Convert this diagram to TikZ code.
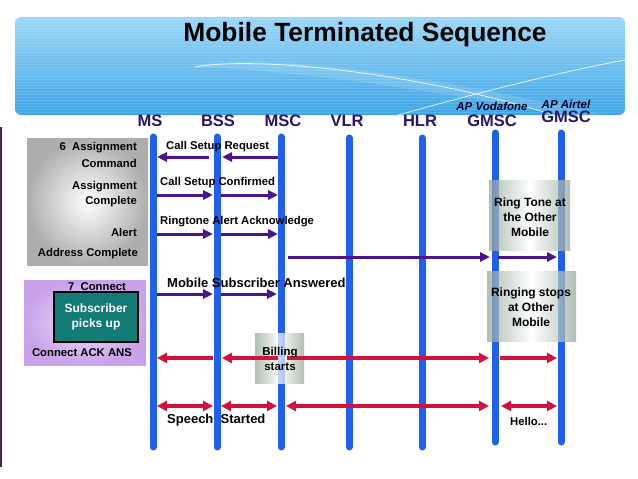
\documentclass[tikz,border=0pt]{standalone}
\usepackage{fontspec}
\setmainfont{Liberation Sans}
\usetikzlibrary{arrows.meta,calc}
\definecolor{lifeblue}{HTML}{1F60EE}
\definecolor{parrow}{HTML}{4B148C}
\definecolor{rarrow}{HTML}{D2123E}
\definecolor{lname}{HTML}{2A146E}
\definecolor{hdtop}{HTML}{9BD7F8}
\definecolor{hdbot}{HTML}{3EA5E6}
\definecolor{boxg}{HTML}{93A696}
\definecolor{teal}{HTML}{137B76}
\definecolor{lavin}{HTML}{EEDFFA}
\definecolor{lavout}{HTML}{C9A2EA}
\definecolor{edgeline}{HTML}{4B2848}
\begin{document}
\begin{tikzpicture}[x=1pt,y=-1pt,
  life/.style={line width=7pt,color=lifeblue,line cap=round},
  lname/.style={font=\bfseries\fontsize{16.5}{18}\selectfont,text=lname,inner sep=0pt},
  apname/.style={font=\bfseries\itshape\fontsize{11.5}{13}\selectfont,text=black!85!blue,inner sep=0pt},
  parr/.style={line width=3pt,color=parrow,-{Triangle[length=10pt,width=9pt]},shorten <=4pt,shorten >=4pt},
  rarr/.style={line width=3.5pt,color=rarrow,-{Triangle[length=10pt,width=10pt]},shorten <=4pt,shorten >=4pt},
  rdarr/.style={line width=3.5pt,color=rarrow,{Triangle[length=10pt,width=10pt]}-{Triangle[length=10pt,width=10pt]},shorten <=4pt,shorten >=4pt},
  msg/.style={font=\bfseries\fontsize{11.3}{13}\selectfont,inner sep=0pt,anchor=west},
  bigmsg/.style={font=\bfseries\fontsize{13}{15}\selectfont,inner sep=0pt,anchor=west},
  sidetxt/.style={font=\bfseries\fontsize{11.3}{13}\selectfont,inner sep=0pt,anchor=east},
  notetxt/.style={font=\bfseries\fontsize{12}{15}\selectfont,align=center,inner sep=0pt},
  gbox/.style={left color=boxg,right color=boxg,middle color=white,opacity=.72}
]
\useasboundingbox (0,0) rectangle (638,479);
\fill[white] (0,0) rectangle (638,479);

% header
\shade[top color=hdtop,bottom color=hdbot,rounded corners=6pt] (15,17) rectangle (625,115);
\begin{scope}
  \clip[rounded corners=6pt] (15,17) rectangle (625,115);
  \foreach \yy in {19,22,...,115} {\draw[white,opacity=.13,line width=.8pt] (15,\yy) -- (625,\yy);}
  \fill[white,opacity=.14] (190,67) .. controls (260,52) and (420,72) .. (625,120) -- (625,125) .. controls (430,90) and (300,70) .. (190,67) -- cycle;
  \draw[white,opacity=.8,line width=.8pt] (195,67) .. controls (260,55) and (430,75) .. (560,117);
  \draw[white,opacity=.8,line width=.8pt] (395,116) .. controls (480,92) and (560,72) .. (625,60);
\end{scope}
\node[font=\bfseries\fontsize{26.4}{30}\selectfont,inner sep=0pt] (title) at (365,35) {Mobile Terminated Sequence};

% left edge
\coordinate (eT) at (1,127); \coordinate (eB) at (1,467);
\draw[edgeline,line width=2pt] (eT) -- (eB);

% lifeline names
\node[lname] (nms) at (150,121) {MS};
\node[lname] (nbss) at (218,121) {BSS};
\node[lname] (nmsc) at (283,121) {MSC};
\node[lname] (nvlr) at (347,121) {VLR};
\node[lname] (nhlr) at (420,121) {HLR};
\node[lname] (ng1) at (492,121) {GMSC};
\node[lname] (ng2) at (566,117) {GMSC};
\node[apname] (ap1) at (492,106) {AP Vodafone};
\node[apname] (ap2) at (566,104) {AP Airtel};

% lifelines
\coordinate (ms) at (153,137); \coordinate (msB) at (153,447);
\coordinate (bss) at (217,137); \coordinate (bssB) at (217,447);
\coordinate (msc) at (281,137); \coordinate (mscB) at (281,447);
\coordinate (vlr) at (349,138); \coordinate (vlrB) at (349,447);
\coordinate (hlr) at (422,138); \coordinate (hlrB) at (422,447);
\coordinate (g1) at (495,133); \coordinate (g1B) at (495,442);
\coordinate (g2) at (561,133); \coordinate (g2B) at (561,442);

% gray side box
\shade[inner color=white,outer color=black!32] (27,138) rectangle (148,265);
\node[sidetxt] (t1) at (137,148) {6\ \ Assignment};
\node[sidetxt] (t2) at (137,163) {Command};
\node[sidetxt] (t3) at (137,187) {Assignment};
\node[sidetxt] (t4) at (137,202) {Complete};
\node[sidetxt] (t5) at (137,232) {Alert};
\node[sidetxt] (t6) at (138,254) {Address Complete};

% purple side box
\shade[inner color=lavin,outer color=lavout] (24,280) rectangle (146,365);
\node[sidetxt,anchor=center] (t7) at (97,287) {7\ \ Connect};
\node[draw=black,line width=1.5pt,fill=teal,minimum width=84pt,minimum height=50pt,inner sep=0pt,
      text=white,align=center,font=\bfseries\fontsize{12}{15}\selectfont] (sub) at (96,317) {Subscriber\\picks up};
\node[sidetxt,anchor=center] (t8) at (82,353) {Connect ACK ANS};

\foreach \a/\b in {ms/msB,bss/bssB,msc/mscB,vlr/vlrB,hlr/hlrB,g1/g1B,g2/g2B} \draw[life] (\a) -- (\b);

% semi-transparent note boxes
\shade[gbox] (489,180) rectangle (570,250);
\node[notetxt] (ring) at (530,217) {Ring Tone at\\the Other\\Mobile};
\shade[gbox] (487,271) rectangle (576,341);
\node[notetxt] (stop) at (531,307) {Ringing stops\\at Other\\Mobile};
\shade[gbox] (255,333) rectangle (304,383);

% row coordinates
\coordinate (r1) at (0,157);
\coordinate (r2) at (0,195);
\coordinate (r3) at (0,234);
\coordinate (r4) at (0,257);
\coordinate (r5) at (0,294);
\coordinate (r6) at (0,358);
\coordinate (r7) at (0,406);

% purple arrows
\draw[parr,shorten <=3pt,shorten >=5pt] (msc|-r1) -- (bss|-r1);
\draw[parr,shorten <=8pt] (bss|-r1) -- (ms|-r1);
\draw[parr] (ms|-r2) -- (bss|-r2);
\draw[parr,shorten >=3pt] (bss|-r2) -- (msc|-r2);
\draw[parr] (ms|-r3) -- (bss|-r3);
\draw[parr,shorten >=3pt] (bss|-r3) -- (msc|-r3);
\draw[parr,shorten <=7pt,shorten >=5pt] (msc|-r4) -- (g1|-r4);
\draw[parr,shorten <=3pt] (g1|-r4) -- (g2|-r4);
\draw[parr] (ms|-r5) -- (bss|-r5);
\draw[parr,shorten >=4pt] (bss|-r5) -- (msc|-r5);

% red arrows
\draw[rarr] (bss|-r6) -- (ms|-r6);
\draw[rarr,shorten <=3pt,shorten >=5pt] (msc|-r6) -- (bss|-r6);
\draw[rarr,shorten <=6pt,shorten >=6pt] (msc|-r6) -- (g1|-r6);
\draw[rarr,shorten <=5pt] (g1|-r6) -- (g2|-r6);
\draw[rdarr] (ms|-r7) -- (bss|-r7);
\draw[rdarr] (bss|-r7) -- (msc|-r7);
\draw[rdarr,shorten <=5pt,shorten >=6pt] (msc|-r7) -- (g1|-r7);
\draw[rdarr,shorten <=6pt] (g1|-r7) -- (g2|-r7);

% message labels
\node[msg] (m1) at (166,147) {Call Setup Request};
\node[msg] (m2) at (160,183) {Call Setup Confirmed};
\node[msg] (m3) at (160,222) {Ringtone Alert Acknowledge};
\node[bigmsg] (m5) at (167,283) {Mobile Subscriber Answered};
\node[bigmsg] (m7) at (167,420) {Speech\ \ Started};
\node[msg] (hello) at (510,421) {Hello...};
\node[notetxt,font=\bfseries\fontsize{11.5}{15}\selectfont] (bill) at (280,359) {Billing\\starts};
\end{tikzpicture}
\end{document}
